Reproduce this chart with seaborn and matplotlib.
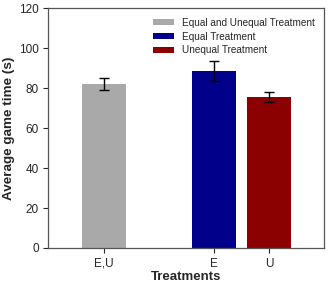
import matplotlib
matplotlib.use("Agg")
import matplotlib.pyplot as plt
import seaborn as sns
import pandas as pd
from matplotlib.patches import Patch

# Data
tick_labels = ["E,U", "E", "U"]
legend_labels = ["Equal and Unequal Treatment", "Equal Treatment", "Unequal Treatment"]
means = [82.0, 88.7, 75.4]
errors = [2.9, 4.9, 2.5]
colors = ["#a9a9a9", "#00008b", "#8b0000"]

sns.set_style("ticks")
plt.rcParams["font.family"] = ["Liberation Sans", "DejaVu Sans"]

df = pd.DataFrame({"cond": tick_labels, "time": means, "group": legend_labels})

fig = plt.figure(figsize=(3.32, 2.87), dpi=100)
ax = fig.add_axes([0.146, 0.136, 0.830, 0.835])

order = ["E,U", " ", "E", "U"]
sns.barplot(data=df, x="cond", y="time", hue="group", order=order,
            palette=dict(zip(legend_labels, colors)), dodge=False,
            width=0.8, errorbar=None, ax=ax, legend=False,
            edgecolor="none", saturation=1)

# error bars from bar geometry
bars = [p for p in ax.patches if p.get_height() > 0]
bars.sort(key=lambda p: p.get_x())
xs = [p.get_x() + p.get_width() / 2 for p in bars]
hs = [p.get_height() for p in bars]
ax.errorbar(xs, hs, yerr=errors, fmt="none", ecolor="black",
            elinewidth=1.0, capsize=3.5, capthick=1.0)

ax.set_xlim(-1, 4)
ax.set_ylim(0, 120)
ax.set_yticks(range(0, 121, 20))
ax.set_xticks(xs)
ax.set_xticklabels(tick_labels)
ax.tick_params(axis="both", labelsize=8.5, length=3.5, width=0.8, colors="#262626")
ax.set_xlabel("Treatments", fontsize=9.5, fontweight="bold", labelpad=1)
ax.set_ylabel("Average game time (s)", fontsize=9.7, fontweight="bold", labelpad=3)
for s in ax.spines.values():
    s.set_color("#555555")
    s.set_linewidth(0.9)

handles = [Patch(facecolor=c, edgecolor="none") for c in colors]
ax.legend(handles, legend_labels, loc="upper right", frameon=False, fontsize=7.2,
          handlelength=2.1, handleheight=0.6, handletextpad=0.8, labelspacing=0.38,
          borderaxespad=0.55)

fig.savefig("out.png", dpi=100)
